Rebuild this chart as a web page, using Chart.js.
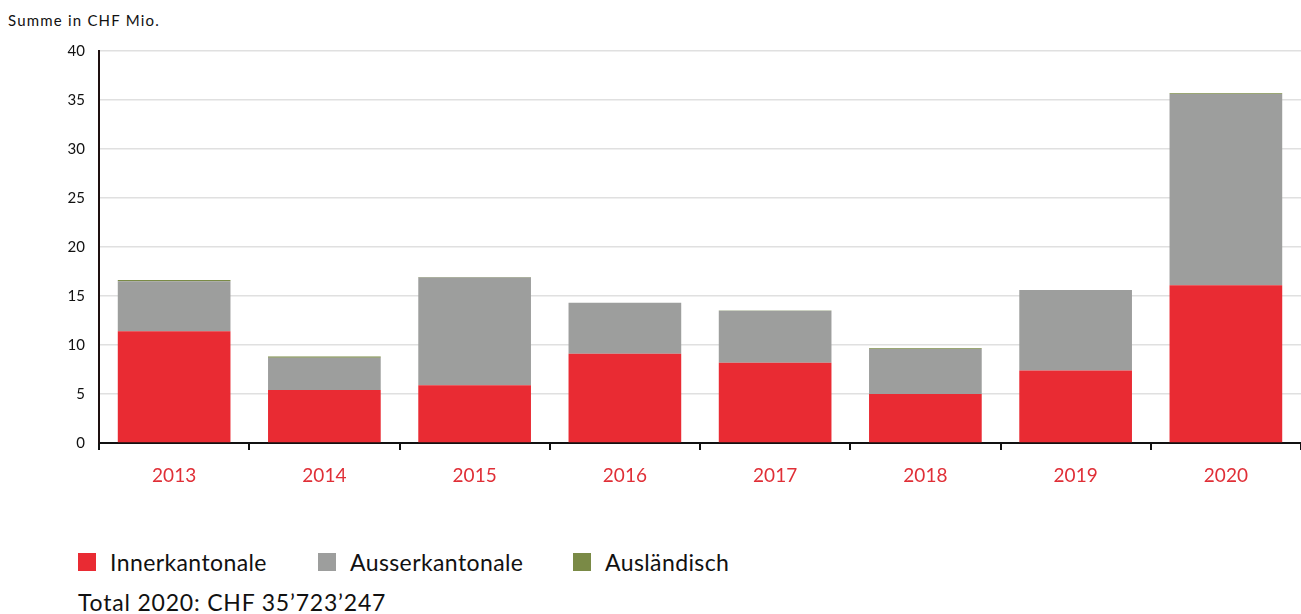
<!DOCTYPE html>
<html>
<head>
<meta charset="utf-8">
<script src="https://cdn.jsdelivr.net/npm/chart.js@4"></script>
<style>
  html, body { margin: 0; padding: 0; background: #fff; }
  body { width: 1301px; height: 614px; position: relative; overflow: hidden; font-family: Lato, "Open Sans", sans-serif; color: #111; }
  #unit { position: absolute; left: 8px; top: 11px; font-size: 15px; letter-spacing: 1.2px; }
  #wrap { position: absolute; left: 0; top: 0; width: 1301px; height: 520px; }
  #legend { position: absolute; left: 0; top: 548px; width: 1301px; height: 30px; font-size: 23px; letter-spacing: 0.4px; }
  .item { position: absolute; top: 0; display: flex; align-items: center; white-space: nowrap; }
  .box { width: 18px; height: 18px; margin-right: 14px; }
  #total { position: absolute; left: 78px; top: 588px; font-size: 23px; letter-spacing: 0.8px; }
</style>
</head>
<body>
<div id="unit">Summe in CHF Mio.</div>
<div id="wrap"><canvas id="chart"></canvas></div>
<div id="legend"></div>
<div id="total">Total 2020: CHF 35’723’247</div>
<script>
// values in CHF Mio.
const years = ['2013', '2014', '2015', '2016', '2017', '2018', '2019', '2020'];
const innerkantonale = [11.4, 5.4, 5.9, 9.1, 8.2, 5.0, 7.4, 16.1];
const ausserkantonale = [5.1, 3.3, 11.0, 5.2, 5.3, 4.6, 8.2, 19.5];
const auslaendisch = [0.12, 0.12, 0.03, 0.02, 0.02, 0.06, 0.02, 0.08];

const colors = ['#e92b33', '#9d9e9d', '#7a8a46'];
const labels = ['Innerkantonale', 'Ausserkantonale', 'Ausländisch'];
const legendLeft = [78, 318, 573];

const ctx = document.getElementById('chart').getContext('2d');
new Chart(ctx, {
    type: 'bar',
    data: {
        labels: years,
        datasets: [
            { label: labels[0], data: innerkantonale, backgroundColor: colors[0] },
            { label: labels[1], data: ausserkantonale, backgroundColor: colors[1] },
            { label: labels[2], data: auslaendisch, backgroundColor: colors[2] }
        ]
    },
    options: {
        responsive: true,
        maintainAspectRatio: false,
        animation: false,
        datasets: { bar: { barPercentage: 0.75, categoryPercentage: 1 } },
        layout: { padding: { top: 51, right: 0, bottom: 0, left: 0 } },
        plugins: {
            legend: { display: false },
            tooltip: { enabled: false }
        },
        scales: {
            x: {
                stacked: true,
                grid: { drawOnChartArea: false, drawTicks: true, tickLength: 7, color: '#111', lineWidth: 2 },
                border: { color: '#111', width: 2 },
                ticks: { color: '#e02f37', padding: 14, font: { family: 'Lato', size: 19 } },
                afterFit: s => { s.height = 77; }
            },
            y: {
                stacked: true,
                min: 0,
                max: 40,
                grid: { color: '#e0e0e0', lineWidth: 1.5, drawTicks: false },
                border: { color: '#1e1010', width: 2 },
                ticks: { stepSize: 5, color: '#111', padding: 14, font: { family: 'Lato', size: 15 } },
                afterFit: s => { s.width = 99; }
            }
        }
    }
});

const legend = document.getElementById('legend');
labels.forEach((name, i) => {
    const item = document.createElement('div');
    item.className = 'item';
    item.style.left = legendLeft[i] + 'px';
    item.innerHTML = '<span class="box" style="background:' + colors[i] + '"></span>' + name;
    legend.appendChild(item);
});
</script>
</body>
</html>
